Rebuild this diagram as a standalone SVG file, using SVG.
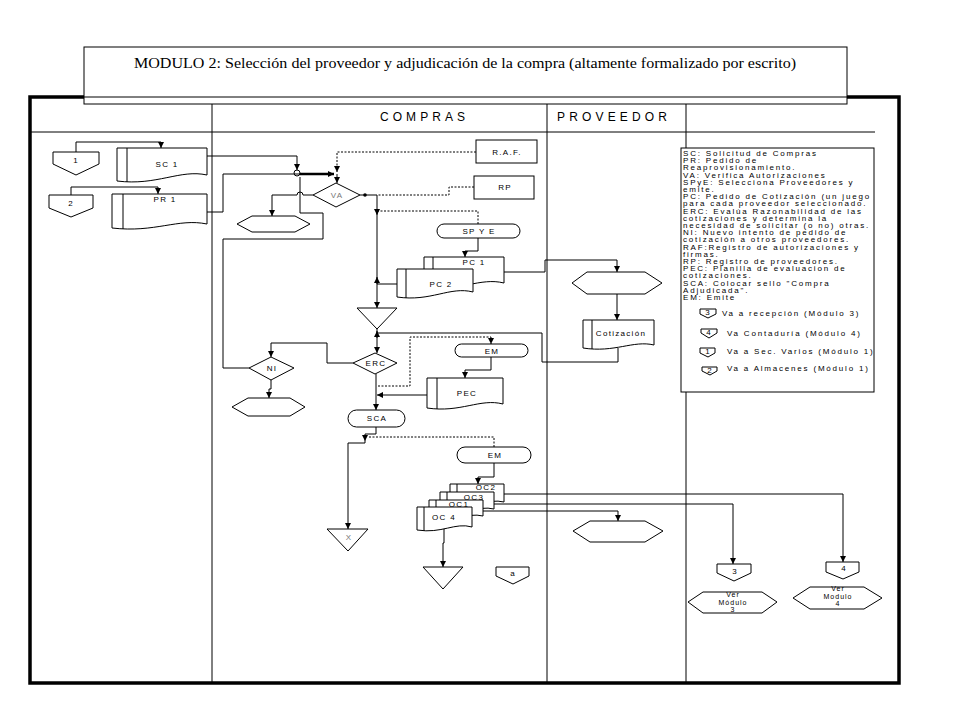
<svg xmlns="http://www.w3.org/2000/svg" width="960" height="720" viewBox="0 0 960 720">
<style>
.s{fill:#fff;stroke:#000;stroke-width:1}
.ln{fill:none;stroke:#000;stroke-width:1}
.dt{fill:none;stroke:#000;stroke-width:1;stroke-dasharray:2,1.5}
.t{font-family:"Liberation Sans",Arial,sans-serif;font-size:8px;letter-spacing:1.3px;fill:#000;text-anchor:middle}
.v{font-family:"Liberation Sans",Arial,sans-serif;font-size:7px;letter-spacing:1px;fill:#000;text-anchor:middle}
.g{fill:#777}
.lg{font-family:"Liberation Sans",Arial,sans-serif;font-size:8px;letter-spacing:1.8px;fill:#000}
.hd{font-family:"Liberation Sans",Arial,sans-serif;font-size:12px;fill:#000}
</style>
<defs>
<marker id="a" viewBox="0 0 10 10" refX="10" refY="5" markerWidth="7" markerHeight="6" markerUnits="userSpaceOnUse" orient="auto"><path d="M0,0 L10,5 L0,10 z" fill="#000"/></marker>
</defs>
<rect width="960" height="720" fill="#fff"/>
<g id="frame">
<rect x="30" y="97" width="869" height="586" fill="none" stroke="#000" stroke-width="3.5"/>
<rect x="84" y="47" width="763" height="57" class="s"/>
<line x1="84" y1="97" x2="847" y2="97" class="ln"/>
<text x="465" y="68" font-family="'Liberation Serif','Times New Roman',serif" font-size="15" text-anchor="middle" textLength="662" lengthAdjust="spacingAndGlyphs">MODULO 2: Selección  del proveedor y adjudicación de la compra (altamente formalizado por escrito)</text>
<line x1="212" y1="104" x2="212" y2="683" class="ln"/>
<line x1="547" y1="104" x2="547" y2="683" class="ln"/>
<line x1="686" y1="104" x2="686" y2="683" class="ln"/>
<line x1="30" y1="132" x2="875" y2="132" class="ln"/>
<text x="380" y="121" class="hd" textLength="85" lengthAdjust="spacing">COMPRAS</text>
<text x="557" y="121" class="hd" textLength="110" lengthAdjust="spacing">PROVEEDOR</text>
</g>
<g id="connectors">
<path d="M76,152 V142 H161 V148" class="ln" marker-end="url(#a)"/>
<path d="M71,195 V187 H158 V194" class="ln" marker-end="url(#a)"/>
<path d="M207,156 H297 V170" class="ln" marker-end="url(#a)"/>
<path d="M207,212 H223 V174 H300" class="ln"/>
<path d="M300,174 H334" fill="none" stroke="#000" stroke-width="2.5" marker-end="url(#a)"/>
<path d="M476,152 H337 V172" class="dt" marker-end="url(#a)"/>
<path d="M337,174 V183" class="ln" marker-end="url(#a)"/>
<path d="M313,195 H303 A3,3 0 0 0 297,195 H272 V216" class="ln" marker-end="url(#a)"/>
<path d="M249,368 H223 V239 H323 V213 H300 V177" class="ln"/>
<path d="M360,195 H377 V308" class="ln" marker-end="url(#a)"/>
<circle cx="365" cy="195" r="1.8" fill="#000"/>
<path d="M474,187 H449 V195 H378" class="dt"/>
<path d="M478,224 V211 H377 V215" class="dt" marker-end="url(#a)"/>
<path d="M478,238 V251 H465 V257" class="ln" marker-end="url(#a)"/>
<path d="M397,284 H377" class="ln"/>
<path d="M377,284 V277" class="ln" marker-end="url(#a)"/>
<path d="M504,272 H545 V260 H617 V272" class="ln" marker-end="url(#a)"/>
<path d="M617,294 V320" class="ln" marker-end="url(#a)"/>
<path d="M618,348 V362 H542 V333 H377" class="ln"/>
<path d="M377,338 V331" class="ln" marker-end="url(#a)"/>
<path d="M377,329 V353" class="ln" marker-end="url(#a)"/>
<path d="M353,363 H327 V343 H271 V357" class="ln" marker-end="url(#a)"/>
<path d="M271,380 V389 H269 V398" class="ln" marker-end="url(#a)"/>
<path d="M376,374 V410" class="ln" marker-end="url(#a)"/>
<path d="M427,395 H377" class="ln" marker-end="url(#a)"/>
<path d="M378,386 H410 V337 H491 V344" class="dt" marker-end="url(#a)"/>
<path d="M491,357 V370 H465 V378" class="ln" marker-end="url(#a)"/>
<path d="M376,427 V434 H365 V441" class="ln" marker-end="url(#a)"/>
<path d="M365,441 V443 H348 V529" class="ln" marker-end="url(#a)"/>
<path d="M494,447 V437 H368" class="dt"/>
<path d="M494,463 V477 H478 V484" class="ln" marker-end="url(#a)"/>
<path d="M444,528 V543 H443 V567" class="ln" marker-end="url(#a)"/>
<path d="M504,494 H843 V562" class="ln" marker-end="url(#a)"/>
<path d="M494,504 H733 V564" class="ln" marker-end="url(#a)"/>
<path d="M483,511 H618 V521" class="ln" marker-end="url(#a)"/>
</g>
<g id="junction"><circle cx="297" cy="173" r="3" fill="none" stroke="#000"/></g>
<g id="c1"><polygon points="53,152 99,152 99,164 76,175 53,164" class="s"/><text x="76" y="163" class="t">1</text></g>
<g id="c2"><polygon points="49,195 93,195 93,208 71,217 49,208" class="s"/><text x="71" y="206" class="t">2</text></g>
<g id="sc1"><path d="M117,148 H207 V175 C180,169 157,186 117,181 Z" class="s"/><line x1="127" y1="148" x2="127" y2="182" class="ln"/><text x="167" y="167" class="t">SC 1</text></g>
<g id="pr1"><path d="M112,194 H207 V224 C178,218 155,233 112,228 Z" class="s"/><line x1="123" y1="194" x2="123" y2="229" class="ln"/><text x="165" y="202" class="t">PR 1</text></g>
<g id="raf"><rect x="476" y="140" width="61" height="23" class="s"/><text x="507" y="155" class="t">R.A.F.</text></g>
<g id="rp"><rect x="474" y="176" width="60" height="23" class="s"/><text x="505" y="190" class="t">RP</text></g>
<g id="va"><polygon points="313,195 336,183 360,195 336,207" class="s"/><text x="337" y="198" class="t g">VA</text></g>
<g id="hex1"><polygon points="237,224 252,216 295,216 310,224 295,232 252,232" class="s"/></g>
<g id="spye"><rect x="437" y="224" width="83" height="14" rx="7" class="s"/><text x="479" y="234" class="t">SP Y E</text></g>
<g id="pc1"><path d="M424,257 H504 V283 C480,277 460,292 424,287 Z" class="s"/><line x1="433" y1="257" x2="433" y2="288" class="ln"/><text x="474" y="265" class="t">PC 1</text></g>
<g id="pc2"><path d="M397,269 H473 V292 C450,286 431,302 397,297 Z" class="s"/><line x1="406" y1="269" x2="406" y2="298" class="ln"/><text x="441" y="287" class="t">PC 2</text></g>
<g id="hexprov"><polygon points="572,283 587,272 645,272 662,283 645,294 587,294" class="s"/></g>
<g id="cotizacion"><path d="M583,320 H654 V345 C633,340 615,353 583,348 Z" class="s"/><line x1="592" y1="320" x2="592" y2="349" class="ln"/><text x="621" y="336" class="t">Cotización</text></g>
<g id="merge"><polygon points="357,308 397,308 377,329" class="s"/></g>
<g id="erc"><polygon points="353,363 375,353 397,363 375,374" class="s"/><text x="376" y="366" class="t">ERC</text></g>
<g id="ni"><polygon points="249,368 271,357 294,368 271,380" class="s"/><text x="272" y="371" class="t">NI</text></g>
<g id="hexni"><polygon points="232,407 248,398 290,398 305,407 290,416 248,416" class="s"/></g>
<g id="em1"><rect x="455" y="344" width="73" height="13" rx="6.5" class="s"/><text x="492" y="354" class="t">EM</text></g>
<g id="pec"><path d="M427,378 H503 V404 C480,398 461,413 427,408 Z" class="s"/><line x1="437" y1="378" x2="437" y2="409" class="ln"/><text x="467" y="396" class="t">PEC</text></g>
<g id="sca"><rect x="348" y="410" width="57" height="17" rx="8.5" class="s"/><text x="377" y="421" class="t">SCA</text></g>
<g id="em2"><rect x="457" y="447" width="74" height="16" rx="8" class="s"/><text x="495" y="458" class="t">EM</text></g>
<g id="tx"><polygon points="327,529 368,529 348,551" class="s"/><text x="349" y="540" class="t g">X</text></g>
<g id="oc2"><path d="M450,484 H504 V502 C488,498 474,509 450,505 Z" class="s"/><line x1="457" y1="484" x2="457" y2="506" class="ln"/><text x="486" y="490" class="t">OC2</text></g>
<g id="oc3"><path d="M440,492 H494 V509 C478,505 464,516 440,512 Z" class="s"/><line x1="447" y1="492" x2="447" y2="513" class="ln"/><text x="474" y="500" class="t">OC3</text></g>
<g id="oc1"><path d="M429,500 H483 V516 C467,512 453,523 429,519 Z" class="s"/><line x1="436" y1="500" x2="436" y2="520" class="ln"/><text x="459" y="507" class="t">OC1</text></g>
<g id="oc4"><path d="M417,507 H472 V527 C455,522 442,534 417,530 Z" class="s"/><line x1="424" y1="507" x2="424" y2="531" class="ln"/><text x="444" y="520" class="t">OC 4</text></g>
<g id="tbot"><polygon points="423,567 463,567 443,589" class="s"/></g>
<g id="ca"><polygon points="496,567 529,567 529,576 513,584 496,576" class="s"/><text x="513" y="576" class="t">a</text></g>
<g id="hexoc"><polygon points="573,531 590,521 645,521 663,531 645,542 590,542" class="s"/></g>
<g id="c3"><polygon points="717,564 751,564 751,573 734,581 717,573" class="s"/><text x="735" y="574" class="t">3</text></g>
<g id="c4"><polygon points="826,562 859,562 859,572 843,579 826,572" class="s"/><text x="844" y="571" class="t">4</text></g>
<g id="ver3"><polygon points="688,602 703,592 762,592 777,602 762,613 703,613" class="s"/><text class="v" x="733"><tspan x="733" y="597">Ver</tspan><tspan x="733" y="604.5">Módulo</tspan><tspan x="733" y="612">3</tspan></text></g>
<g id="ver4"><polygon points="793,598 810,587 864,587 882,598 864,609 810,609" class="s"/><text class="v" x="838"><tspan x="838" y="591">Ver</tspan><tspan x="838" y="598.5">Modulo</tspan><tspan x="838" y="606">4</tspan></text></g>
<g id="legend">
<rect x="681" y="148" width="193" height="244" class="s"/>
<text class="lg" x="683" y="156">SC: Solicitud de Compras</text>
<text class="lg" x="683" y="163.2">PR: Pedido de</text>
<text class="lg" x="683" y="170.4">Reaprovisionamiento.</text>
<text class="lg" x="683" y="177.6">VA: Verifica Autorizaciones</text>
<text class="lg" x="683" y="184.8">SPyE: Selecciona Proveedores y</text>
<text class="lg" x="683" y="192">emite.</text>
<text class="lg" x="683" y="199.2">PC: Pedido de Cotización (un juego</text>
<text class="lg" x="683" y="206.4">para cada proveedor seleccionado.</text>
<text class="lg" x="683" y="213.6">ERC: Evalúa Razonabilidad de las</text>
<text class="lg" x="683" y="220.8">cotizaciones y determina la</text>
<text class="lg" x="683" y="228">necesidad de solicitar (o no) otras.</text>
<text class="lg" x="683" y="235.2">NI: Nuevo intento de pedido de</text>
<text class="lg" x="683" y="242.4">cotización a otros proveedores.</text>
<text class="lg" x="683" y="249.6">RAF:Registro de autorizaciones y</text>
<text class="lg" x="683" y="256.8">firmas.</text>
<text class="lg" x="683" y="264">RP: Registro de proveedores.</text>
<text class="lg" x="683" y="271.2">PEC: Planilla de evaluacion de</text>
<text class="lg" x="683" y="278.4">cotizaciones.</text>
<text class="lg" x="683" y="285.6">SCA: Colocar sello "Compra</text>
<text class="lg" x="683" y="292.8">Adjudicada".</text>
<text class="lg" x="683" y="300">EM: Emite</text>
<polygon points="700,309 716,309 716,314 708,318 700,314" class="s"/><text x="708" y="315" class="t" font-size="6" letter-spacing="0">3</text>
<text class="lg" x="722" y="316" letter-spacing="1.5">Va a recepción (Módulo 3)</text>
<polygon points="701,329 717,329 717,333 709,338 701,333" class="s"/><text x="709" y="335" class="t" font-size="6" letter-spacing="0">4</text>
<text class="lg" x="727" y="336" letter-spacing="1.5">Va Contaduría (Módulo 4)</text>
<polygon points="700,348 715,348 715,353 708,357 700,353" class="s"/><text x="708" y="354" class="t" font-size="6" letter-spacing="0">1</text>
<text class="lg" x="727" y="354" letter-spacing="1.5">Va a Sec. Varios (Módulo 1)</text>
<polygon points="702,367 717,367 717,371 710,375 702,371" class="s"/><text x="710" y="373" class="t" font-size="6" letter-spacing="0">2</text>
<text class="lg" x="727" y="371" letter-spacing="1.5">Va a Almacenes (Módulo 1)</text>
</g>
</svg>
